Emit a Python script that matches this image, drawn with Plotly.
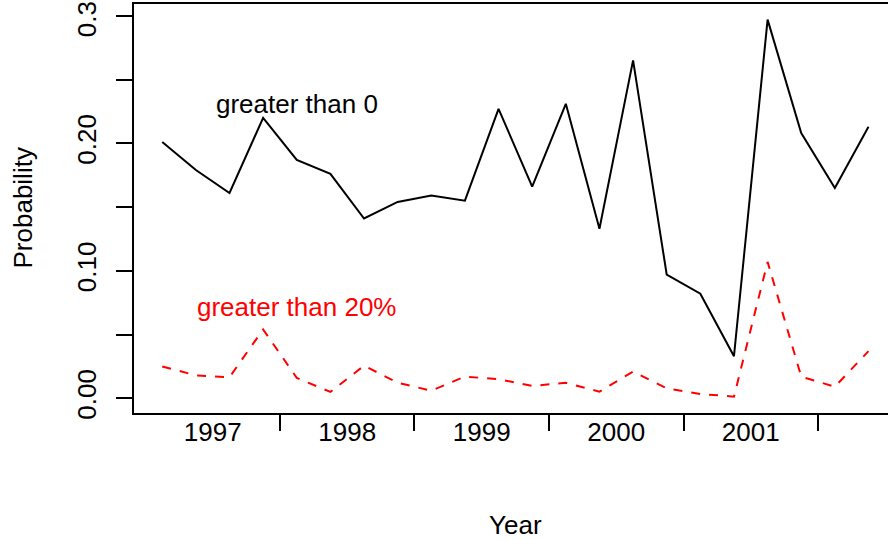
import plotly.graph_objects as go

# Quarter mid-points (1997 Q1 .. 2002 Q2)
quarters = [1997.125, 1997.375, 1997.625, 1997.875,
            1998.125, 1998.375, 1998.625, 1998.875,
            1999.125, 1999.375, 1999.625, 1999.875,
            2000.125, 2000.375, 2000.625, 2000.875,
            2001.125, 2001.375, 2001.625, 2001.875,
            2002.125, 2002.375]

prob_gt0 = [0.201, 0.179, 0.161, 0.220, 0.187, 0.176, 0.141, 0.154,
            0.159, 0.155, 0.227, 0.166, 0.231, 0.133, 0.265, 0.097,
            0.082, 0.033, 0.297, 0.208, 0.165, 0.213]

prob_gt20 = [0.025, 0.018, 0.0165, 0.054, 0.016, 0.005, 0.0256, 0.0122,
             0.006, 0.017, 0.015, 0.0097, 0.0122, 0.0052, 0.021, 0.0078,
             0.0034, 0.0013, 0.107, 0.017, 0.0091, 0.037]

year_labels = ["1997", "1998", "1999", "2000", "2001"]
year_label_pos = [1997.5, 1998.5, 1999.5, 2000.5, 2001.5]
year_breaks = [1998, 1999, 2000, 2001, 2002]

y_major = [0.0, 0.1, 0.2, 0.3]
y_major_text = ["0.00", "0.10", "0.20", "0.30"]
y_minor = [0.05, 0.15, 0.25]

FONT = "Liberation Sans, Arial, Helvetica, sans-serif"
FS = 26

fig = go.Figure()
fig.add_trace(go.Scatter(x=quarters, y=prob_gt0, mode="lines",
                         line=dict(color="black", width=2), showlegend=False))
fig.add_trace(go.Scatter(x=quarters, y=prob_gt20, mode="lines",
                         line=dict(color="#ff0000", width=2, dash="9px,9px"),
                         showlegend=False))

fig.add_annotation(x=1998.125, y=0.231, text="greater than 0", showarrow=False,
                   font=dict(family=FONT, size=FS, color="black"),
                   xanchor="center", yanchor="middle")
fig.add_annotation(x=1998.125, y=0.072, text="greater than 20%", showarrow=False,
                   font=dict(family=FONT, size=FS, color="#ff0000"),
                   xanchor="center", yanchor="middle")

# axis titles
fig.add_annotation(x=1999.75, xref="x", y=0, yref="paper", yshift=-112,
                   text="Year", showarrow=False,
                   font=dict(family=FONT, size=FS, color="black"),
                   xanchor="center", yanchor="middle")
fig.add_annotation(x=0, xref="paper", y=0.5, yref="paper", xshift=-112,
                   text="Probability", showarrow=False, textangle=-90,
                   font=dict(family=FONT, size=FS, color="black"),
                   xanchor="center", yanchor="middle")

fig.update_layout(
    width=888, height=540,
    margin=dict(l=134, r=0, t=4, b=127, autoexpand=False),
    paper_bgcolor="white", plot_bgcolor="white",
    font=dict(family=FONT, size=FS, color="black"),
    xaxis=dict(range=[1996.915, 2002.52], showgrid=False, zeroline=False,
               automargin=False,
               showline=True, linecolor="black", linewidth=2, mirror=True,
               tickmode="array", tickvals=year_label_pos, ticktext=year_labels,
               ticks="", ticklabelstandoff=-5,
               tickfont=dict(family=FONT, size=FS, color="black"),
               minor=dict(tickmode="array", tickvals=year_breaks, ticks="outside",
                          ticklen=16, tickwidth=2, tickcolor="black", showgrid=False)),
    yaxis=dict(range=[-0.01153, 0.30925], showgrid=False, zeroline=False,
               automargin=False,
               showline=True, linecolor="black", linewidth=2, mirror=False,
               tickmode="array", tickvals=y_major, ticktext=y_major_text,
               ticks="outside", ticklen=16, tickwidth=2, tickcolor="black",
               tickangle=-90, ticklabelstandoff=10, ticklabeloverflow="allow",
               tickfont=dict(family=FONT, size=FS, color="black"),
               minor=dict(tickmode="array", tickvals=y_minor, ticks="outside",
                          ticklen=16, tickwidth=2, tickcolor="black", showgrid=False)),
)

fig.write_html("out.html")
